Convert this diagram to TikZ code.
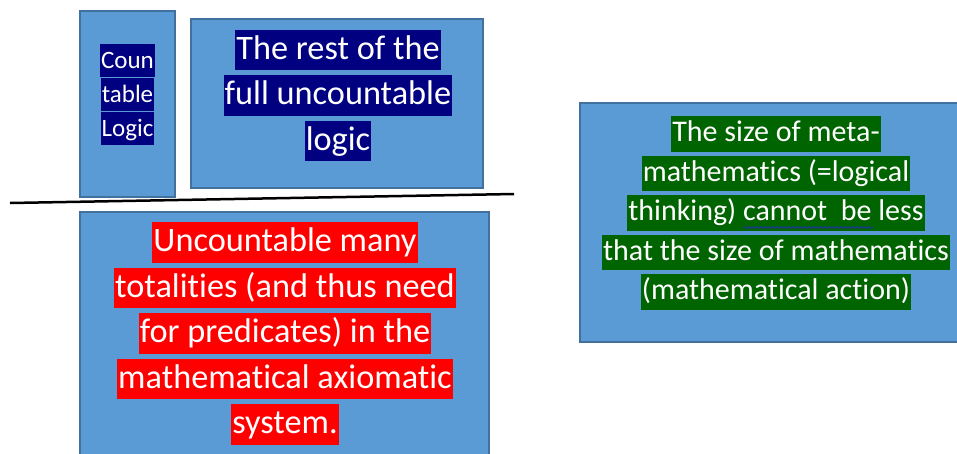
\documentclass[tikz,border=0pt]{standalone}
\usepackage{fontspec}
\setmainfont{Carlito}[Ligatures={NoCommon}]
\usetikzlibrary{decorations.pathmorphing}
\definecolor{boxfill}{RGB}{91,155,213}
\definecolor{boxline}{RGB}{65,113,156}
\definecolor{navyhl}{RGB}{0,0,128}
\definecolor{redhl}{RGB}{255,0,0}
\definecolor{greenhl}{RGB}{0,100,0}
\definecolor{squiggle}{RGB}{40,40,200}
\newcommand\hlline[3][1.13em]{{\setlength\fboxsep{1pt}\colorbox{#2}{\rule[-.3em]{0pt}{#1}\textcolor{white}{#3}}}}
\begin{document}
\begin{tikzpicture}[x=1pt,y=-1pt,
  box/.style={draw=boxline, fill=boxfill, line width=1.2pt, inner sep=0pt},
  txt/.style={align=center, inner sep=0pt}]
\useasboundingbox (0,0) rectangle (957,453);
\clip (0,0) rectangle (957,453);
% boxes
\node[box, minimum width=95pt, minimum height=186pt] (countbox) at (127.5,104) {};
\node[box, minimum width=292pt, minimum height=169pt] (restbox) at (337,103.5) {};
\node[box, minimum width=409pt, minimum height=246pt] (uncbox) at (284.5,335) {};
\node[box, minimum width=392pt, minimum height=239pt] (metabox) at (776,222.5) {};
% separating line
\coordinate (lineA) at (10,203);
\coordinate (lineB) at (514,194);
\draw[line width=2.5pt] (lineA) -- (lineB);
% texts
\node[txt, font=\fontsize{25}{34}\selectfont] (counttxt) at (127.5,94.5)
  {\hlline[1.22em]{navyhl}{Coun}\\\hlline[1.22em]{navyhl}{table}\\\hlline[1.22em]{navyhl}{Logic}};
\node[txt, font=\fontsize{34.3}{45.5}\selectfont] (resttxt) at (338,95.5)
  {\hlline{navyhl}{The rest of the}\\\hlline{navyhl}{full uncountable}\\\hlline{navyhl}{logic}};
\node[txt, font=\fontsize{34.3}{45.5}\selectfont] (unctxt) at (285,333.5)
  {\hlline{redhl}{Uncountable many}\\\hlline{redhl}{totalities (and thus need}\\\hlline{redhl}{for predicates) in the}\\\hlline{redhl}{mathematical axiomatic}\\\hlline{redhl}{system.}};
\node[txt, font=\fontsize{30}{39.5}\selectfont] (metatxt) at (776,213)
  {\hlline{greenhl}{The size of meta-}\\\hlline{greenhl}{mathematics (=logical}\\\hlline{greenhl}{thinking) cannot\ \ be less}\\\hlline{greenhl}{that the size of mathematics}\\\hlline{greenhl}{(mathematical action)}};
% spell-check squiggle
\coordinate (sqA) at (743,227.5);
\coordinate (sqB) at (873,227.5);
\draw[squiggle, line width=0.7pt, decorate, decoration={snake, amplitude=1pt, segment length=4pt}] (sqA) -- (sqB);
\end{tikzpicture}
\end{document}
